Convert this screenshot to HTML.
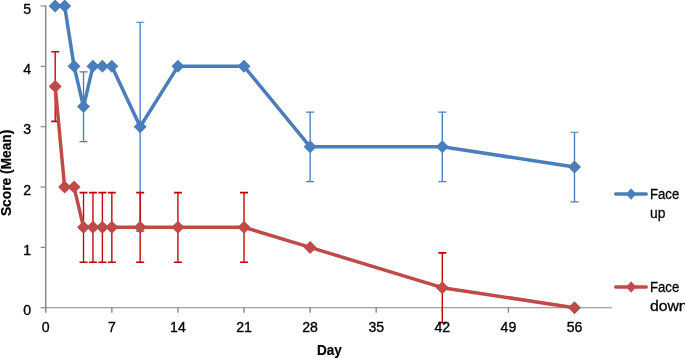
<!DOCTYPE html>
<html><head><meta charset="utf-8"><title>Chart</title>
<style>
html,body{margin:0;padding:0;background:#fff;}
body{width:685px;height:358px;overflow:hidden;font-family:"Liberation Sans",sans-serif;}
svg{display:block;}
text{font-family:"Liberation Sans",sans-serif;fill:#000;}
.t{font-size:14.1px;stroke:#000;stroke-width:0.35px;}
.l{font-size:14.9px;stroke:#000;stroke-width:0.3px;}
.b{font-size:14.3px;font-weight:bold;stroke:#000;stroke-width:0.2px;}
</style></head>
<body>
<svg width="685" height="358" viewBox="0 0 685 358">
<rect width="685" height="358" fill="#fff"/>
<path d="M45.75 5.40V308.35" stroke="#868686" stroke-width="1.4" fill="none"/>
<path d="M45.05 307.75H611.9" stroke="#868686" stroke-width="1.2" fill="none"/>
<path d="M40.6 307.75H45.75" stroke="#868686" stroke-width="1.2"/>
<path d="M40.6 247.40H45.75" stroke="#868686" stroke-width="1.2"/>
<path d="M40.6 187.05H45.75" stroke="#868686" stroke-width="1.2"/>
<path d="M40.6 126.70H45.75" stroke="#868686" stroke-width="1.2"/>
<path d="M40.6 66.35H45.75" stroke="#868686" stroke-width="1.2"/>
<path d="M40.6 6.00H45.75" stroke="#868686" stroke-width="1.2"/>
<path d="M45.75 307.75V312.7" stroke="#868686" stroke-width="1.4"/>
<path d="M111.84 307.75V312.7" stroke="#868686" stroke-width="1.4"/>
<path d="M177.94 307.75V312.7" stroke="#868686" stroke-width="1.4"/>
<path d="M244.03 307.75V312.7" stroke="#868686" stroke-width="1.4"/>
<path d="M310.13 307.75V312.7" stroke="#868686" stroke-width="1.4"/>
<path d="M376.22 307.75V312.7" stroke="#868686" stroke-width="1.4"/>
<path d="M442.31 307.75V312.7" stroke="#868686" stroke-width="1.4"/>
<path d="M508.41 307.75V312.7" stroke="#868686" stroke-width="1.4"/>
<path d="M574.50 307.75V312.7" stroke="#868686" stroke-width="1.4"/>
<path d="M83.52 71.88V141.53" stroke="#4A7EBB" stroke-width="1.35" fill="none"/><path d="M79.52 71.88H87.52M79.52 141.53H87.52" stroke="#4A7EBB" stroke-width="1.2" fill="none"/>
<path d="M140.17 22.27V231.33" stroke="#4A7EBB" stroke-width="1.35" fill="none"/><path d="M136.17 22.27H144.17M136.17 231.33H144.17" stroke="#4A7EBB" stroke-width="1.2" fill="none"/>
<path d="M310.13 112.07V181.72" stroke="#4A7EBB" stroke-width="1.35" fill="none"/><path d="M306.13 112.07H314.13M306.13 181.72H314.13" stroke="#4A7EBB" stroke-width="1.2" fill="none"/>
<path d="M442.31 112.07V181.72" stroke="#4A7EBB" stroke-width="1.35" fill="none"/><path d="M438.31 112.07H446.31M438.31 181.72H446.31" stroke="#4A7EBB" stroke-width="1.2" fill="none"/>
<path d="M574.50 132.23V201.88" stroke="#4A7EBB" stroke-width="1.35" fill="none"/><path d="M570.50 132.23H578.50M570.50 201.88H578.50" stroke="#4A7EBB" stroke-width="1.2" fill="none"/>
<polyline points="55.19,6.00 64.63,6.00 74.08,66.35 83.52,106.60 92.96,66.35 102.40,66.35 111.84,66.35 140.17,126.70 177.94,66.35 244.03,66.35 310.13,146.80 442.31,146.80 574.50,166.95" fill="none" stroke="#4A7EBB" stroke-width="3.5" stroke-linejoin="round" stroke-linecap="round"/>
<path d="M55.19 -0.50L61.69 6.00L55.19 12.50L48.69 6.00Z" fill="#4A7EBB"/>
<path d="M64.63 -0.50L71.13 6.00L64.63 12.50L58.13 6.00Z" fill="#4A7EBB"/>
<path d="M74.08 59.85L80.58 66.35L74.08 72.85L67.58 66.35Z" fill="#4A7EBB"/>
<path d="M83.52 100.10L90.02 106.60L83.52 113.10L77.02 106.60Z" fill="#4A7EBB"/>
<path d="M92.96 59.85L99.46 66.35L92.96 72.85L86.46 66.35Z" fill="#4A7EBB"/>
<path d="M102.40 59.85L108.90 66.35L102.40 72.85L95.90 66.35Z" fill="#4A7EBB"/>
<path d="M111.84 59.85L118.34 66.35L111.84 72.85L105.34 66.35Z" fill="#4A7EBB"/>
<path d="M140.17 120.20L146.67 126.70L140.17 133.20L133.67 126.70Z" fill="#4A7EBB"/>
<path d="M177.94 59.85L184.44 66.35L177.94 72.85L171.44 66.35Z" fill="#4A7EBB"/>
<path d="M244.03 59.85L250.53 66.35L244.03 72.85L237.53 66.35Z" fill="#4A7EBB"/>
<path d="M310.13 140.30L316.63 146.80L310.13 153.30L303.63 146.80Z" fill="#4A7EBB"/>
<path d="M442.31 140.30L448.81 146.80L442.31 153.30L435.81 146.80Z" fill="#4A7EBB"/>
<path d="M574.50 160.45L581.00 166.95L574.50 173.45L568.00 166.95Z" fill="#4A7EBB"/>
<path d="M55.19 51.72V121.37" stroke="#C00000" stroke-width="1.35" fill="none"/><path d="M51.19 51.72H59.19M51.19 121.37H59.19" stroke="#C00000" stroke-width="1.65" fill="none"/>
<path d="M83.52 192.58V262.23" stroke="#C00000" stroke-width="1.35" fill="none"/><path d="M79.52 192.58H87.52M79.52 262.23H87.52" stroke="#C00000" stroke-width="1.65" fill="none"/>
<path d="M92.96 192.58V262.23" stroke="#C00000" stroke-width="1.35" fill="none"/><path d="M88.96 192.58H96.96M88.96 262.23H96.96" stroke="#C00000" stroke-width="1.65" fill="none"/>
<path d="M102.40 192.58V262.23" stroke="#C00000" stroke-width="1.35" fill="none"/><path d="M98.40 192.58H106.40M98.40 262.23H106.40" stroke="#C00000" stroke-width="1.65" fill="none"/>
<path d="M111.84 192.58V262.23" stroke="#C00000" stroke-width="1.35" fill="none"/><path d="M107.84 192.58H115.84M107.84 262.23H115.84" stroke="#C00000" stroke-width="1.65" fill="none"/>
<path d="M140.17 192.58V262.23" stroke="#C00000" stroke-width="1.35" fill="none"/><path d="M136.17 192.58H144.17M136.17 262.23H144.17" stroke="#C00000" stroke-width="1.65" fill="none"/>
<path d="M177.94 192.58V262.23" stroke="#C00000" stroke-width="1.35" fill="none"/><path d="M173.94 192.58H181.94M173.94 262.23H181.94" stroke="#C00000" stroke-width="1.65" fill="none"/>
<path d="M244.03 192.58V262.23" stroke="#C00000" stroke-width="1.35" fill="none"/><path d="M240.03 192.58H248.03M240.03 262.23H248.03" stroke="#C00000" stroke-width="1.65" fill="none"/>
<path d="M442.31 252.93V322.58" stroke="#C00000" stroke-width="1.35" fill="none"/><path d="M438.31 252.93H446.31M438.31 322.58H446.31" stroke="#C00000" stroke-width="1.65" fill="none"/>
<polyline points="55.19,86.45 64.63,187.05 74.08,187.05 83.52,227.30 92.96,227.30 102.40,227.30 111.84,227.30 140.17,227.30 177.94,227.30 244.03,227.30 310.13,247.40 442.31,287.65 574.50,307.75" fill="none" stroke="#BE4B48" stroke-width="3.5" stroke-linejoin="round" stroke-linecap="round"/>
<path d="M55.19 79.95L61.69 86.45L55.19 92.95L48.69 86.45Z" fill="#BE4B48"/>
<path d="M64.63 180.55L71.13 187.05L64.63 193.55L58.13 187.05Z" fill="#BE4B48"/>
<path d="M74.08 180.55L80.58 187.05L74.08 193.55L67.58 187.05Z" fill="#BE4B48"/>
<path d="M83.52 220.80L90.02 227.30L83.52 233.80L77.02 227.30Z" fill="#BE4B48"/>
<path d="M92.96 220.80L99.46 227.30L92.96 233.80L86.46 227.30Z" fill="#BE4B48"/>
<path d="M102.40 220.80L108.90 227.30L102.40 233.80L95.90 227.30Z" fill="#BE4B48"/>
<path d="M111.84 220.80L118.34 227.30L111.84 233.80L105.34 227.30Z" fill="#BE4B48"/>
<path d="M140.17 220.80L146.67 227.30L140.17 233.80L133.67 227.30Z" fill="#BE4B48"/>
<path d="M177.94 220.80L184.44 227.30L177.94 233.80L171.44 227.30Z" fill="#BE4B48"/>
<path d="M244.03 220.80L250.53 227.30L244.03 233.80L237.53 227.30Z" fill="#BE4B48"/>
<path d="M310.13 240.90L316.63 247.40L310.13 253.90L303.63 247.40Z" fill="#BE4B48"/>
<path d="M442.31 281.15L448.81 287.65L442.31 294.15L435.81 287.65Z" fill="#BE4B48"/>
<path d="M574.50 301.25L581.00 307.75L574.50 314.25L568.00 307.75Z" fill="#BE4B48"/>
<path d="M615.7 193.95H646.2" stroke="#4A7EBB" stroke-width="3.5" stroke-linecap="round"/><path d="M631.10 188.30L636.10 194.00L631.10 199.70L626.10 194.00Z" fill="#4A7EBB"/>
<path d="M615.7 287.0H646.2" stroke="#BE4B48" stroke-width="3.5" stroke-linecap="round"/><path d="M631.10 281.35L636.10 287.05L631.10 292.75L626.10 287.05Z" fill="#BE4B48"/>
<g opacity="0.999">
<text x="31.2" y="315.35" text-anchor="end" class="t">0</text>
<text x="31.2" y="255.00" text-anchor="end" class="t">1</text>
<text x="31.2" y="194.65" text-anchor="end" class="t">2</text>
<text x="31.2" y="134.30" text-anchor="end" class="t">3</text>
<text x="31.2" y="73.95" text-anchor="end" class="t">4</text>
<text x="31.2" y="13.60" text-anchor="end" class="t">5</text>
<text x="45.75" y="332.3" text-anchor="middle" class="t">0</text>
<text x="111.84" y="332.3" text-anchor="middle" class="t">7</text>
<text x="177.94" y="332.3" text-anchor="middle" class="t">14</text>
<text x="244.03" y="332.3" text-anchor="middle" class="t">21</text>
<text x="310.13" y="332.3" text-anchor="middle" class="t">28</text>
<text x="376.22" y="332.3" text-anchor="middle" class="t">35</text>
<text x="442.31" y="332.3" text-anchor="middle" class="t">42</text>
<text x="508.41" y="332.3" text-anchor="middle" class="t">49</text>
<text x="574.50" y="332.3" text-anchor="middle" class="t">56</text>
<text x="316.9" y="355.4" class="b" textLength="24.8" lengthAdjust="spacingAndGlyphs">Day</text>
<text transform="translate(10.7,216.1) rotate(-90)" class="b" textLength="86.4" lengthAdjust="spacingAndGlyphs">Score (Mean)</text>
<text x="650.0" y="198.8" class="l" textLength="29.2" lengthAdjust="spacingAndGlyphs">Face</text><text x="650.0" y="217.9" class="l" textLength="15.4" lengthAdjust="spacingAndGlyphs">up</text>
<text x="650.0" y="291.8" class="l" textLength="29.2" lengthAdjust="spacingAndGlyphs">Face</text><text x="650.0" y="310.9" class="l" textLength="37.6" lengthAdjust="spacingAndGlyphs">down</text>
</g>
</svg>
</body></html>
